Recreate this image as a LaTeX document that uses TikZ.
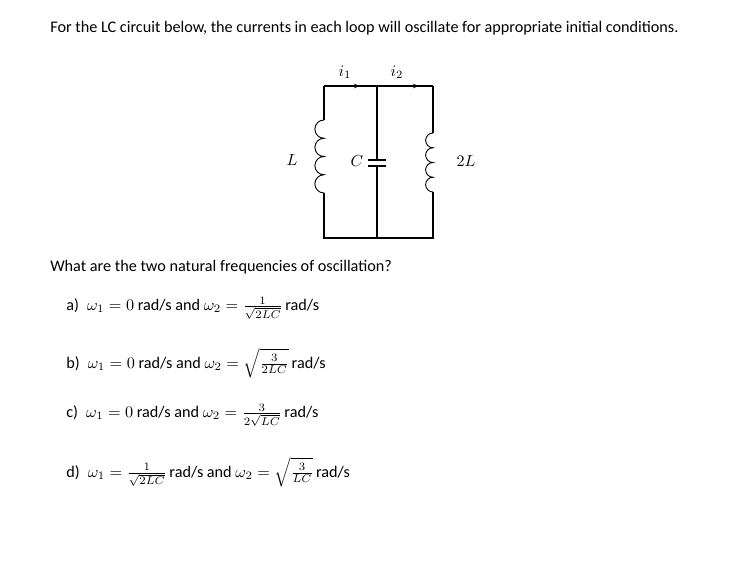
\documentclass[tikz,border=0pt]{standalone}
\usepackage{amsmath}
\usepackage{fontspec}
\setmainfont{Carlito}
\usetikzlibrary{arrows.meta}
\tikzset{
  wire/.style={line width=1.1pt},
  coil/.style={line width=0.9pt},
  tip/.style={line width=1.1pt,-{Stealth[length=6pt,width=4.5pt]}},
  txt/.style={anchor=west,inner sep=0pt,font=\fontsize{10}{12}\selectfont,scale=1.62},
  lbl/.style={inner sep=0pt,font=\fontsize{10}{12}\selectfont,scale=1.6}
}
\begin{document}
\begin{tikzpicture}[x=1pt,y=-1pt]
\useasboundingbox (0,0) rectangle (744,569);
\node[txt] (title) at (50,28) {For the LC circuit below, the currents in each loop will oscillate for appropriate initial conditions.};
\coordinate (tl) at (324,86); \coordinate (tm) at (377,86); \coordinate (tr) at (433,86);
\coordinate (bl) at (324,238); \coordinate (bm) at (377,238); \coordinate (br) at (433,238);
\coordinate (l1a) at (324,120); \coordinate (l1b) at (324,193);
\coordinate (l2a) at (433,133); \coordinate (l2b) at (433,192);
\coordinate (c1) at (377,160); \coordinate (c2) at (377,166);
\coordinate (a1) at (360,86); \coordinate (a2) at (419,86);
\draw[tip] (tl) -- (a1);
\draw[tip] (tm) -- (a2);
\draw[wire] (tl) -- (tr);
\draw[wire] (tl) -- (l1a) (l1b) -- (bl) -- (bm) -- (br) -- (l2b) (l2a) -- (tr);
\draw[wire] (tm) -- (c1) (c2) -- (bm);
\draw[wire] (368,160) -- (386,160) (368,166) -- (386,166);
\draw[coil] (l1a) \foreach \i in {1,...,4} {arc[start angle=270,end angle=90,radius=9.125]};
\draw[coil] (l2a) \foreach \i in {1,...,4} {arc[start angle=270,end angle=90,radius=7.375]};
\node[lbl] (i1) at (345,72) {$i_1$};
\node[lbl] (i2) at (397,72) {$i_2$};
\node[lbl] (L) at (292,160) {$L$};
\node[lbl] (C) at (357,161) {$C$};
\node[lbl] (L2) at (466,161) {$2L$};
\node[txt] (q) at (50,267) {What are the two natural frequencies of oscillation?};
\node[txt] (a) at (66,308) {a)\enspace $\omega_1=0$ rad/s and $\omega_2=\frac{1}{\sqrt{2LC}}$\,rad/s};
\node[txt] (b) at (66,363) {b)\enspace $\omega_1=0$ rad/s and $\omega_2=\sqrt{\frac{3}{2LC}}$\,rad/s};
\node[txt] (c) at (66,415) {c)\enspace $\omega_1=0$ rad/s and $\omega_2=\frac{3}{2\sqrt{LC}}$\,rad/s};
\node[txt] (d) at (66,472) {d)\enspace $\omega_1=\frac{1}{\sqrt{2LC}}$\,rad/s and $\omega_2=\sqrt{\frac{3}{LC}}$\,rad/s};
\end{tikzpicture}
\end{document}
